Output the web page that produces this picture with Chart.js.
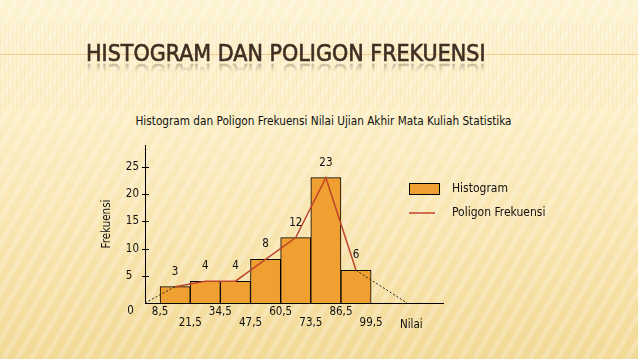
<!DOCTYPE html>
<html lang="id">
<head>
<meta charset="UTF-8">
<title>Histogram dan Poligon Frekuensi</title>
<script src="https://cdn.jsdelivr.net/npm/chart.js"></script>
<style>
    html, body { margin: 0; padding: 0; }
    body {
        width: 638px; height: 359px; overflow: hidden; position: relative;
        font-family: 'DejaVu Sans Condensed', 'DejaVu Sans', sans-serif;
        background:
            repeating-linear-gradient(120deg, rgba(255,255,255,0.22) 0 5px, rgba(255,255,255,0) 5px 12px),
            linear-gradient(to bottom, #fdf3d2 0%, #fcefc6 30%, #f9e6b2 60%, #f2d996 100%);
    }
    .band {
        position: absolute; left: 0; top: 22px; width: 638px; height: 88px;
        background: repeating-linear-gradient(90deg, rgba(225,190,120,0.12) 0 1px, rgba(0,0,0,0) 1px 4px);
    }
    .rule { position: absolute; left: 0; top: 54px; width: 638px; height: 1px; background: rgba(236,170,80,0.5); }
    .slide-title {
        position: absolute; left: 86px; top: 42px; white-space: nowrap;
        font-family: 'Liberation Sans Narrow', 'DejaVu Sans Condensed', sans-serif;
        font-size: 23px; line-height: 22px; color: #3e2f22;
        -webkit-text-stroke: 0.6px #3e2f22;
        -webkit-box-reflect: below -3px linear-gradient(rgba(0,0,0,0) 50%, rgba(0,0,0,0.4));
    }
    .chart-title {
        position: absolute; left: 0; top: 114px; width: 647px;
        text-align: center; font-size: 11.7px; line-height: 14px; color: #111;
    }
    canvas { position: absolute; left: 0; top: 0; }
</style>
</head>
<body>
<div class="band"></div>
<div class="rule"></div>
<div class="slide-title">HISTOGRAM DAN POLIGON FREKUENSI</div>
<div class="chart-title">Histogram dan Poligon Frekuensi Nilai Ujian Akhir Mata Kuliah Statistika</div>
<canvas id="chart" width="638" height="359"></canvas>

<script>
    // data
    const classBounds = [8.5, 21.5, 34.5, 47.5, 60.5, 73.5, 86.5, 99.5];
    const classMids = [15, 28, 41, 54, 67, 80, 93];
    const frequencies = [3, 4, 4, 8, 12, 23, 6];
    const polygonEnds = [2, 115];   // where the dotted closing lines meet the axis
    const yTicks = [0, 5, 10, 15, 20, 25];
    const xRange = [2, 130.5];
    const yMax = 29;

    const barColor = '#F0A030';
    const lineColor = '#C0442A';
    const FONT = "'DejaVu Sans Condensed', 'DejaVu Sans', sans-serif";

    const histPoints = classMids.map((x, i) => ({ x: x, y: frequencies[i] }));
    const polyPoints = [{ x: polygonEnds[0], y: 0 }].concat(histPoints, [{ x: polygonEnds[1], y: 0 }]);
    const lastSeg = polyPoints.length - 2;
    const isClosing = ctx => ctx.p0DataIndex === 0 || ctx.p0DataIndex === lastSeg;

    Chart.defaults.font.family = FONT;
    Chart.defaults.font.size = 11.5;
    Chart.defaults.color = '#111';

    // value labels, y tick marks, "0", "Nilai" and the legend
    const extras = {
        id: 'extras',
        afterDatasetsDraw(chart) {
            const ctx = chart.ctx;
            ctx.save();
            ctx.font = '11.5px ' + FONT;
            ctx.fillStyle = '#111';
            ctx.textAlign = 'center';
            ctx.textBaseline = 'middle';
            chart.getDatasetMeta(1).data.forEach((bar, i) => {
                ctx.fillText(String(frequencies[i]), bar.x, bar.y - 15);
            });
            ctx.restore();
        },
        afterDraw(chart) {
            const ctx = chart.ctx;
            const area = chart.chartArea;
            const y = chart.scales.y;
            ctx.save();
            ctx.strokeStyle = '#000';
            ctx.lineWidth = 1;
            yTicks.forEach(v => {
                if (v === 0) return;
                const py = Math.round(y.getPixelForValue(v)) + 0.5;
                ctx.beginPath();
                ctx.moveTo(area.left - 3, py);
                ctx.lineTo(area.left + 4, py);
                ctx.stroke();
            });

            ctx.font = '11.5px ' + FONT;
            ctx.fillStyle = '#111';
            ctx.textBaseline = 'middle';
            ctx.textAlign = 'center';
            ctx.fillText('0', area.left - 14.5, area.bottom + 8);
            ctx.textAlign = 'left';
            ctx.fillText('Nilai', area.right - 43, area.bottom + 22);

            // legend
            ctx.font = '12px ' + FONT;
            const lx = area.right - 34;
            const ly = 183;
            const items = chart.data.datasets.slice().reverse();
            items.forEach((ds, i) => {
                const cy = ly + 6 + i * 24;
                if (ds.type === 'bar') {
                    ctx.fillStyle = ds.backgroundColor;
                    ctx.fillRect(lx, cy - 6, 31, 12);
                    ctx.strokeStyle = '#000';
                    ctx.lineWidth = 1;
                    ctx.strokeRect(lx + 0.5, cy - 5.5, 30, 11);
                } else {
                    ctx.strokeStyle = ds.borderColor;
                    ctx.lineWidth = 1.5;
                    ctx.beginPath();
                    ctx.moveTo(lx, cy);
                    ctx.lineTo(lx + 26, cy);
                    ctx.stroke();
                }
                ctx.fillStyle = '#111';
                ctx.fillText(ds.label, lx + 43, cy);
            });
            ctx.restore();
        }
    };

    new Chart(document.getElementById('chart'), {
        type: 'bar',
        data: {
            datasets: [{
                type: 'line',
                label: 'Poligon Frekuensi',
                data: polyPoints,
                borderColor: lineColor,
                borderWidth: 1.5,
                pointRadius: 0,
                fill: false,
                tension: 0,
                segment: {
                    borderColor: ctx => isClosing(ctx) ? '#222' : undefined,
                    borderDash: ctx => isClosing(ctx) ? [2, 2] : undefined,
                    borderWidth: ctx => isClosing(ctx) ? 1 : undefined
                }
            }, {
                type: 'bar',
                label: 'Histogram',
                data: histPoints,
                backgroundColor: barColor,
                borderColor: '#000',
                borderWidth: 1,
                barPercentage: 1,
                categoryPercentage: 1
            }]
        },
        options: {
            responsive: false,
            animation: false,
            layout: { padding: { left: 100, right: 195, top: 145, bottom: 16 } },
            plugins: {
                legend: { display: false },
                tooltip: { enabled: false }
            },
            scales: {
                x: {
                    type: 'linear',
                    min: xRange[0],
                    max: xRange[1],
                    offset: false,
                    grid: { display: false, drawTicks: false },
                    border: { color: '#000' },
                    afterBuildTicks: s => { s.ticks = classBounds.map(v => ({ value: v })); },
                    ticks: {
                        autoSkip: false,
                        maxRotation: 0,
                        padding: 3,
                        font: { size: 11.5, lineHeight: 1 },
                        callback: (v, i) => {
                            const t = String(v).replace('.', ',');
                            return i % 2 ? ['', t] : [t];
                        }
                    },
                    afterFit: s => { s.height = 40; }
                },
                y: {
                    min: 0,
                    max: yMax,
                    grid: { display: false, drawTicks: false },
                    border: { color: '#000' },
                    afterBuildTicks: s => { s.ticks = yTicks.map(v => ({ value: v })); },
                    ticks: {
                        padding: 6,
                        // figure space keeps single digits left-aligned with the others
                        callback: v => v === 0 ? '' : (v < 10 ? v + '\u2007' : String(v))
                    },
                    title: { display: true, text: 'Frekuensi', padding: 0, font: { size: 11.5 } },
                    afterFit: s => { s.width = 45; }
                }
            }
        },
        plugins: [extras]
    });
</script>
</body>
</html>
